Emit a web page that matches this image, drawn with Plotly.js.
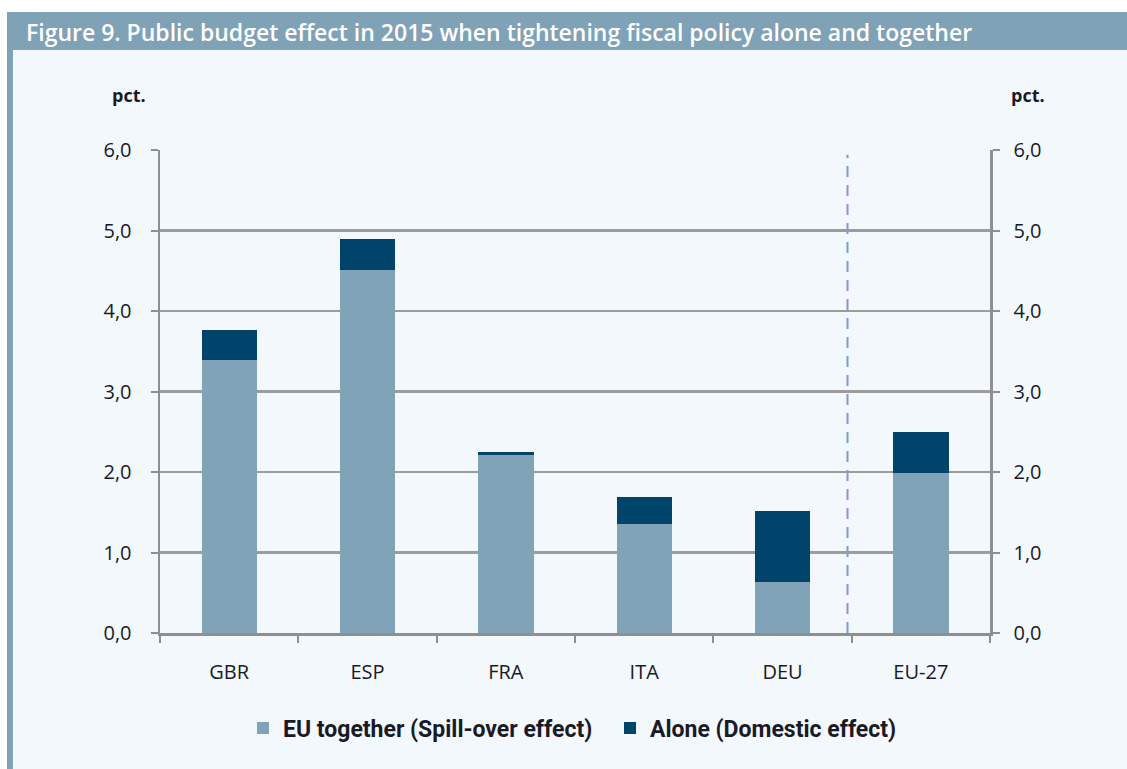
<!DOCTYPE html>
<html>
<head>
<meta charset="utf-8">
<script src="https://cdn.plot.ly/plotly-3.0.1.min.js"></script>
<style>html,body{margin:0;padding:0;background:#fff;}#chart{width:1127px;height:769px;}</style>
</head>
<body>
<div id="chart"></div>
<script>
// Data
var categories = ["GBR", "ESP", "FRA", "ITA", "DEU", "EU-27"];
var spillover = [3.39, 4.51, 2.21, 1.36, 0.63, 1.99];
var domestic = [0.37, 0.39, 0.04, 0.33, 0.88, 0.51];
var seriesNames = ["EU together (Spill-over effect)", "Alone (Domestic effect)"];
var yTicks = [0, 1, 2, 3, 4, 5, 6];
var titleText = "Figure 9. Public budget effect in 2015 when tightening fiscal policy alone and together";
var unitLabel = "pct.";

// Geometry helpers (pixel -> paper)
var W = 1127, H = 769, L = 160, R = 137, T = 150, B = 136;
var PW = W - L - R, PH = H - T - B;
function fx(px) { return (px - L) / PW; }
function fy(py) { return (H - B - py) / PH; }

var textColor = "#1a1a26";
var barLight = "#80a3b8";
var barDark = "#00446b";
var frameColor = "#80a2b7";
var panelBg = "#f3f8fd";
var bodyFont = "'Open Sans', 'Noto Sans', sans-serif";
var legendFont = "'Roboto', 'Noto Sans', sans-serif";

var traces = [
  {
    type: "bar", x: categories, y: spillover, name: seriesNames[0],
    marker: { color: barLight, line: { width: 0 } }, hoverinfo: "x+y"
  },
  {
    type: "bar", x: categories, y: domestic, name: seriesNames[1],
    marker: { color: barDark, line: { width: 0 } }, hoverinfo: "x+y"
  },
  {
    type: "scatter", x: categories, y: spillover, yaxis: "y2",
    mode: "markers", marker: { opacity: 0 }, showlegend: false, hoverinfo: "skip"
  }
];

var axisLine = "#8f8f8f";
var layout = {
  width: W, height: H,
  margin: { l: L, r: R, t: T, b: B, pad: 0 },
  paper_bgcolor: "#ffffff",
  plot_bgcolor: panelBg,
  barmode: "stack",
  bargap: 0.6,
  separators: ",.",
  showlegend: true,
  legend: {
    orientation: "h", x: fx(243), xanchor: "left", y: fy(728), yanchor: "middle",
    bgcolor: "rgba(0,0,0,0)", font: { family: legendFont, size: 23, color: textColor, weight: "bold" },
    itemwidth: 30, traceorder: "normal", entrywidth: 322, entrywidthmode: "pixels"
  },
  xaxis: {
    type: "category", range: [-0.5, 5.5],
    showline: true, linecolor: axisLine, linewidth: 2.5,
    ticks: "outside", tickson: "boundaries", ticklen: 7, tickwidth: 2, tickcolor: axisLine,
    ticklabelstandoff: 19,
    showgrid: false, zeroline: false,
    tickfont: { family: bodyFont, size: 20, color: textColor }
  },
  yaxis: {
    range: [0, 6], tickvals: yTicks, tickformat: ".1f",
    showline: true, linecolor: axisLine, linewidth: 2.5,
    ticks: "outside", ticklen: 7, tickwidth: 2, tickcolor: axisLine,
    ticklabelstandoff: 15,
    showgrid: true, gridcolor: "#9c9c9c", gridwidth: 2.4, zeroline: false,
    tickfont: { family: bodyFont, size: 20, color: textColor }
  },
  yaxis2: {
    overlaying: "y", side: "right", range: [0, 6], tickvals: yTicks, tickformat: ".1f",
    showline: true, linecolor: axisLine, linewidth: 2.5,
    ticks: "outside", ticklen: 7, tickwidth: 2, tickcolor: axisLine,
    ticklabelstandoff: 10,
    showgrid: false, zeroline: false,
    tickfont: { family: bodyFont, size: 20, color: textColor }
  },
  shapes: [
    { type: "rect", xref: "paper", yref: "paper", x0: fx(13), x1: fx(W + 5), y0: fy(H + 5), y1: fy(50),
      fillcolor: panelBg, line: { width: 0 }, layer: "below" },
    { type: "rect", xref: "paper", yref: "paper", x0: fx(7), x1: fx(W + 5), y0: fy(50), y1: fy(12),
      fillcolor: frameColor, line: { width: 0 }, layer: "below" },
    { type: "rect", xref: "paper", yref: "paper", x0: fx(7), x1: fx(13), y0: fy(H + 5), y1: fy(50),
      fillcolor: frameColor, line: { width: 0 }, layer: "below" },
    { type: "line", xref: "x", yref: "y", x0: 4.47, x1: 4.47, y0: 0, y1: 5.94,
      line: { color: "#7b9bd0", width: 2, dash: "11px,8px" }, layer: "below" }
  ],
  annotations: [
    { text: titleText, xref: "paper", yref: "paper", x: fx(24), y: fy(32),
      xanchor: "left", yanchor: "middle", showarrow: false,
      font: { family: bodyFont, size: 23, color: "#ffffff", weight: 600 } },
    { text: unitLabel, xref: "paper", yref: "paper", x: fx(129), y: fy(95),
      xanchor: "center", yanchor: "middle", showarrow: false,
      font: { family: bodyFont, size: 18, color: textColor, weight: "bold" } },
    { text: unitLabel, xref: "paper", yref: "paper", x: fx(1028), y: fy(95),
      xanchor: "center", yanchor: "middle", showarrow: false,
      font: { family: bodyFont, size: 18, color: textColor, weight: "bold" } }
  ]
};

Plotly.newPlot("chart", traces, layout, { displayModeBar: false, staticPlot: true });
</script>
</body>
</html>
